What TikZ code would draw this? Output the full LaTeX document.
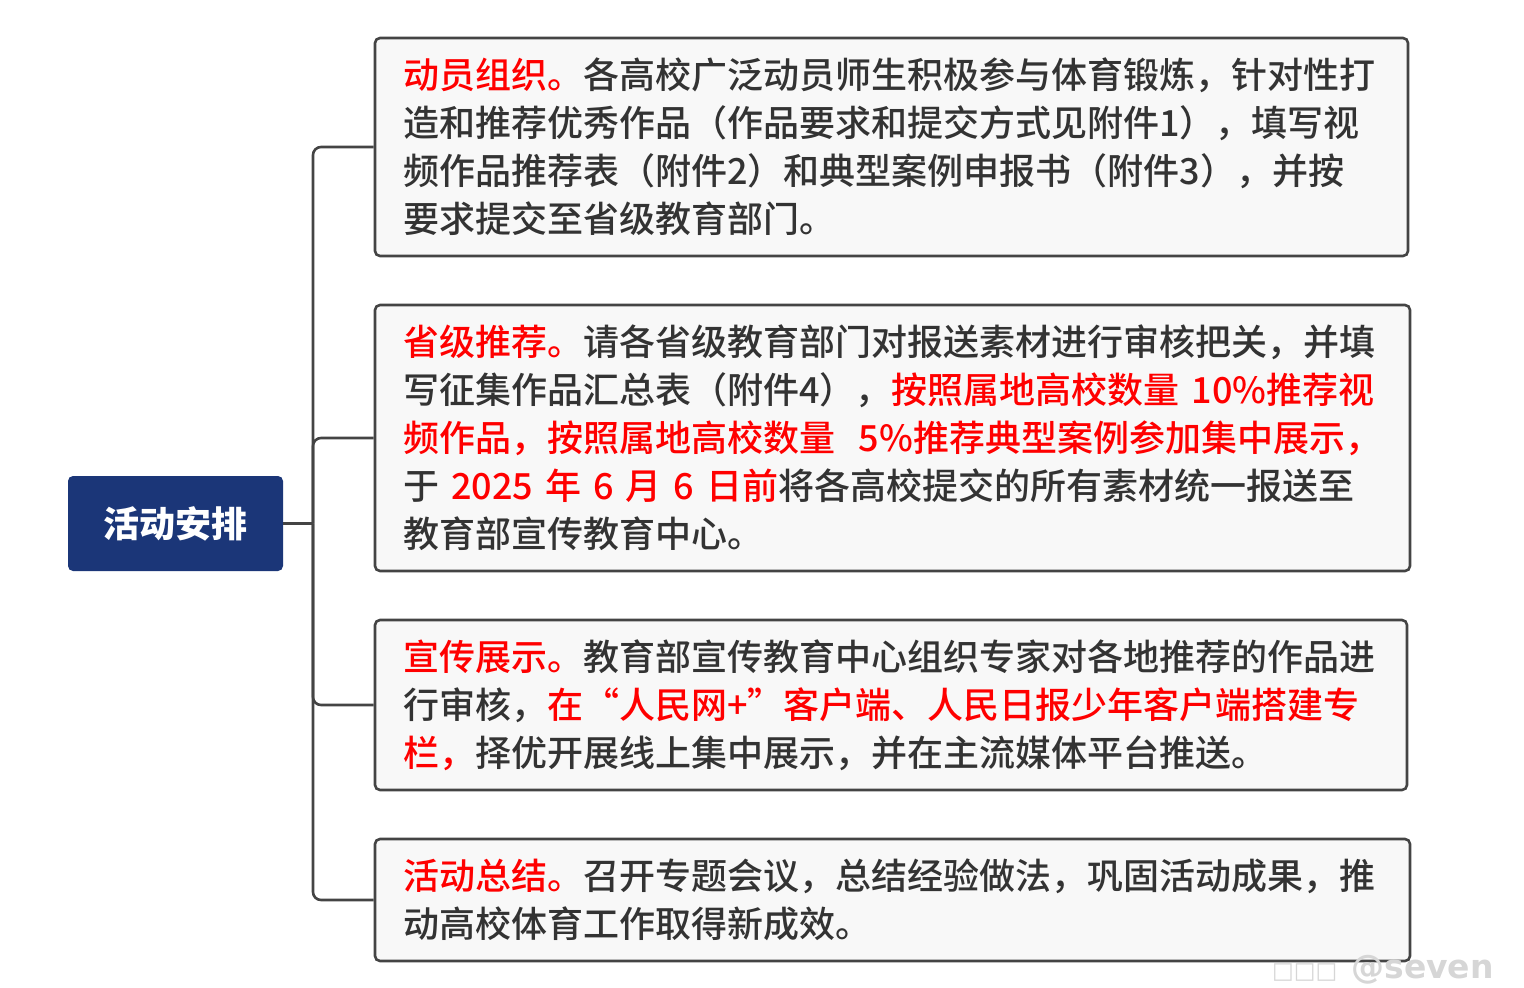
\documentclass[tikz,border=0pt]{standalone}
\usepackage{fontspec}
\setmainfont{Noto Sans CJK SC}
\newfontfamily\cjkbody[UprightFont={* Medium}]{Noto Sans CJK SC}
\newfontfamily\wmfont{DejaVu Sans}
\definecolor{navy}{HTML}{1B3678}
\definecolor{linegray}{HTML}{444444}
\definecolor{boxfill}{HTML}{F8F8F8}
\definecolor{txtgray}{HTML}{333333}
\definecolor{hired}{HTML}{FF0000}
\definecolor{wmgray}{HTML}{D6D6D6}
\newcommand\redtxt[1]{\textcolor{hired}{#1}}
\tikzset{
  rootbox/.style={draw=none, fill=navy, rounded corners=5pt, minimum width=215pt, minimum height=95pt, text=white, font=\bfseries\fontsize{36pt}{40pt}\selectfont, inner sep=0pt},
  infobox/.style={draw=linegray, line width=2.6pt, fill=boxfill, rounded corners=5pt, inner xsep=28pt, inner ysep=0pt, align=left, text=txtgray, font=\cjkbody\fontsize{36pt}{48pt}\selectfont},
  conn/.style={draw=linegray, line width=2.6pt, rounded corners=8pt}
}
\begin{document}
\begin{tikzpicture}[x=1pt,y=-1pt]
\useasboundingbox (0,0) rectangle (1524,988);
\node[rootbox] (root) at (175.5,523.5) {活动安排};
\node[infobox, text width=977pt, minimum height=218pt] (b1) at (891.5,147) {\redtxt{动员组织。}各高校广泛动员师生积极参与体育锻炼，针对性打\\造和推荐优秀作品（作品要求和提交方式见附件1），填写视\\频作品推荐表（附件2）和典型案例申报书（附件3），并按\\要求提交至省级教育部门。};
\node[infobox, text width=979pt, minimum height=266pt] (b2) at (892.5,438) {\redtxt{省级推荐。}请各省级教育部门对报送素材进行审核把关，并填\\写征集作品汇总表（附件4），\redtxt{按照属地高校数量~10\%推荐视}\\\redtxt{频作品，按照属地高校数量~~5\%推荐典型案例参加集中展示，}\\于~\redtxt{2025~年~6~月~6~日前}将各高校提交的所有素材统一报送至\\教育部宣传教育中心。};
\node[infobox, text width=976pt, minimum height=170pt] (b3) at (891,705) {\redtxt{宣传展示。}教育部宣传教育中心组织专家对各地推荐的作品进\\行审核，\redtxt{在“人民网+”客户端、人民日报少年客户端搭建专}\\\redtxt{栏，}择优开展线上集中展示，并在主流媒体平台推送。};
\node[infobox, text width=979pt, minimum height=122pt] (b4) at (892.5,900) {\redtxt{活动总结。}召开专题会议，总结经验做法，巩固活动成果，推\\动高校体育工作取得新成效。};
\coordinate (j) at (313,523.5);
\draw[conn] (root.east) -- (j);
\draw[conn] (j) |- (b1.west);
\draw[conn] (j) |- (b2.west);
\draw[conn] (j) |- (b3.west);
\draw[conn] (j) |- (b4.west);
\node[anchor=base west, inner sep=0pt, text=wmgray, font=\wmfont\bfseries\fontsize{33pt}{40pt}\selectfont] (wm) at (1272,978) {{\fontsize{23pt}{30pt}\selectfont □□□}\hspace{14pt}@seven};
\end{tikzpicture}
\end{document}
